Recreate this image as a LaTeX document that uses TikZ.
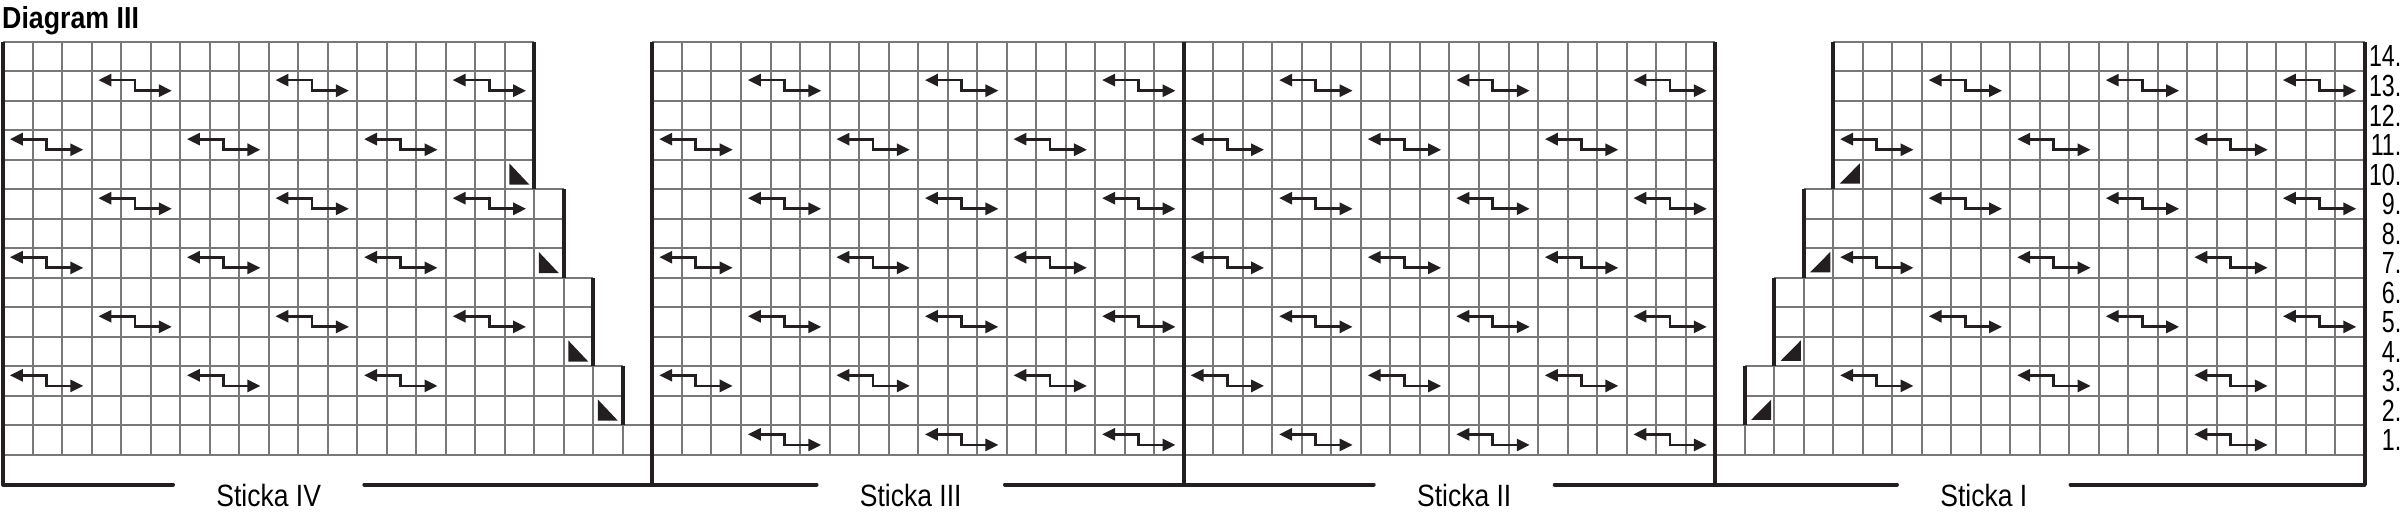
\documentclass[tikz,border=0pt]{standalone}
\usepackage{fontspec}
\setmainfont{Liberation Sans}
\newfontfamily\labelfont[FakeStretch=0.86]{Liberation Sans}
\newfontfamily\numfont[FakeStretch=0.76]{Liberation Sans}
\newfontfamily\titlefont[FakeStretch=0.88]{Liberation Sans}
\usepackage{tikz}
\usetikzlibrary{arrows.meta}
\definecolor{ink}{RGB}{35,31,32}
\definecolor{gridgray}{RGB}{120,120,120}
\tikzset{
	gridline/.style={draw=gridgray, line width=1pt, step=1},
	frame/.style={draw=ink, line width=2pt},
	baseline/.style={draw=ink, line width=2pt, line cap=round},
	twist/.style={draw=ink, line width=1.4pt, {Triangle[length=6.5pt,width=6pt]}-{Triangle[length=6.5pt,width=6pt]}},
	dec/.style={fill=ink},
	sticka/.style={font=\labelfont\fontsize{15.4}{16}\selectfont, anchor=base, inner xsep=21.5pt, inner ysep=0pt},
	rownum/.style={font=\numfont\fontsize{15.3}{16}\selectfont, anchor=east, inner sep=0pt},
	title/.style={font=\titlefont\bfseries\fontsize{15.2}{16}\selectfont, anchor=base west, inner sep=0pt}
}

\begin{document}
\begin{tikzpicture}[x=14.76pt, y=14.76pt]
			\useasboundingbox (-0.102,-2.10) rectangle (81.37,15.413);
			\node[title] (title) at (-0.04,14.454) {Diagram III};
			\draw[gridline] (0,9) grid (18,14);
			\draw[gridline] (0,6) grid (19,9);
			\draw[gridline] (0,3) grid (20,6);
			\draw[gridline] (0,1) grid (21,3);
			\draw[gridline] (0,0) grid (22,1);
			\draw[gridline] (22,0) grid (58,14);
			\draw[gridline] (62,9) grid (80,14);
			\draw[gridline] (61,6) grid (80,9);
			\draw[gridline] (60,3) grid (80,6);
			\draw[gridline] (59,1) grid (80,3);
			\draw[gridline] (58,0) grid (80,1);
			\foreach \r in {13,9,5}
				\foreach \c in {3,9,15,25,31,37,43,49,55,65,71,77}
					\draw[twist] (\c+0.23,\r-0.30) -- (\c+1.47,\r-0.30) -- (\c+1.47,\r-0.66) -- (\c+2.72,\r-0.66);
			\foreach \r in {11,7,3}
				\foreach \c in {0,6,12,22,28,34,40,46,52,62,68,74}
					\draw[twist] (\c+0.23,\r-0.30) -- (\c+1.47,\r-0.30) -- (\c+1.47,\r-0.66) -- (\c+2.72,\r-0.66);
			\foreach \c in {25,31,37,43,49,55,74}
				\draw[twist] (\c+0.23,0.70) -- (\c+1.47,0.70) -- (\c+1.47,0.34) -- (\c+2.72,0.34);
			\foreach \c/\r in {17/10, 18/7, 19/4, 20/2}
				\fill[dec] (\c+0.15,\r-0.12) -- (\c+0.15,\r-0.84) -- (\c+0.83,\r-0.84) -- cycle;
			\foreach \c/\r in {62/10, 61/7, 60/4, 59/2}
				\fill[dec] (\c+0.22,\r-0.81) -- (\c+0.90,\r-0.81) -- (\c+0.90,\r-0.12) -- cycle;
			\foreach \c in {0,22,40,58,80}
				\draw[frame] (\c,14) -- (\c,-1);
			\foreach \c/\hi/\lo in {18/14/9, 19/9/6, 20/6/3, 21/3/1, 62/14/9, 61/9/6, 60/6/3, 59/3/1}
				\draw[frame] (\c,\hi) -- (\c,\lo);
			\coordinate (bl) at (0,-1);
			\coordinate (br) at (80,-1);
			\node[sticka] (lblIV) at (9,-1.76) {Sticka IV};
			\node[sticka] (lblIII) at (30.75,-1.76) {Sticka III};
			\node[sticka] (lblII) at (49.5,-1.76) {Sticka II};
			\node[sticka] (lblI) at (67.1,-1.76) {Sticka I};
			\draw[baseline] (bl) -- (lblIV.west |- bl);
			\draw[baseline] (lblIV.east |- bl) -- (lblIII.west |- bl);
			\draw[baseline] (lblIII.east |- bl) -- (lblII.west |- bl);
			\draw[baseline] (lblII.east |- bl) -- (lblI.west |- bl);
			\draw[baseline] (lblI.east |- bl) -- (br);
			\foreach \r in {1,...,14}
				\node[rownum] (row\r) at (81.26,\r-0.5) {\r.};
		\end{tikzpicture}
\end{document}
